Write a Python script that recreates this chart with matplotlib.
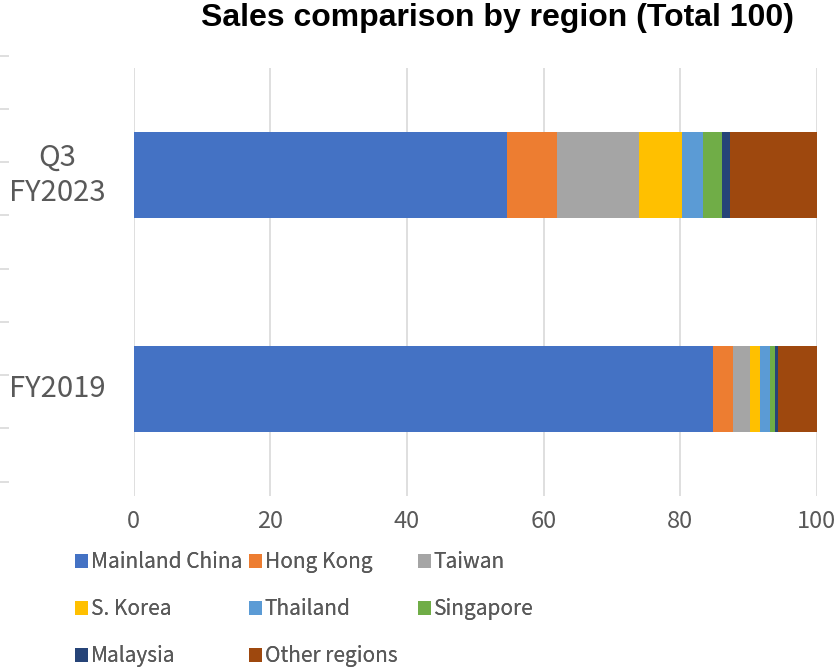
import matplotlib.pyplot as plt
import numpy as np

periods = ['FY2019', 'Q3\nFY2023']
regions = ['Mainland China', 'Hong Kong', 'Taiwan', 'S. Korea',
           'Thailand', 'Singapore', 'Malaysia', 'Other regions']
colors = ['#4472C4', '#ED7D31', '#A5A5A5', '#FFC000',
          '#5B9BD5', '#70AD47', '#264478', '#9E480E']

# shares per region: [FY2019, Q3 FY2023]
mainland = [84.8, 54.6]
hong_kong = [3.0, 7.4]
taiwan = [2.4, 12.0]
s_korea = [1.5, 6.2]
thailand = [1.5, 3.1]
singapore = [0.7, 2.8]
malaysia = [0.4, 1.2]
other = [5.7, 12.7]
series = [mainland, hong_kong, taiwan, s_korea, thailand, singapore, malaysia, other]

plt.rcParams['font.family'] = ['Noto Sans CJK JP', 'DejaVu Sans']
txt = '#595959'

fig = plt.figure(figsize=(8.36, 6.70), dpi=100)
ax = fig.add_axes([0.160, 0.260, 0.817, 0.638])

y = np.arange(len(periods))
left = np.zeros(len(periods))
handles = []
for name, vals, c in zip(regions, series, colors):
    b = ax.barh(y, vals, left=left, height=0.4, color=c, label=name, zorder=3)
    handles.append(b)
    left += np.array(vals)

ax.set_xlim(0, 100)
ax.set_ylim(-0.5, 1.5)
ax.set_xticks(range(0, 101, 20))
ax.set_yticks(y)
ax.set_yticklabels(periods, linespacing=1.25)
ax.tick_params(length=0, labelcolor=txt)
ax.tick_params(axis='x', labelsize=17, pad=10)
ax.tick_params(axis='y', labelsize=21, pad=55)
for t in ax.get_yticklabels():
    t.set_horizontalalignment('center')
    t.set_verticalalignment('center')
ax.grid(axis='x', color='#D9D9D9', linewidth=1.2, zorder=0)
for s in ax.spines.values():
    s.set_visible(False)

fig.suptitle('Sales comparison by region (Total 100)', x=0.595, y=0.995,
             fontsize=23, fontweight='bold', family='Liberation Sans', color='black')

# legend laid out row by row in three fixed columns
col_x = [0.090, 0.298, 0.500]
for k, x0 in enumerate(col_x):
    idx = list(range(k, len(regions), 3))
    leg = fig.legend([handles[i] for i in idx], [regions[i] for i in idx],
                     loc='upper left', bbox_to_anchor=(x0, 0.177), frameon=False,
                     fontsize=15, labelcolor=txt, handlelength=0.6, handleheight=0.6,
                     handletextpad=0.15, labelspacing=1.2, borderpad=0, borderaxespad=0)
    fig.add_artist(leg)

# faint tick marks along the left edge
ax2 = fig.add_axes([0.011, 0.281, 0.001, 0.636])
ax2.set_ylim(0, 1)
ax2.set_yticks(np.linspace(0, 1, 9))
ax2.set_yticklabels([])
ax2.set_xticks([])
ax2.tick_params(axis='y', length=9, color='#D9D9D9', width=1.2)
for s in ax2.spines.values():
    s.set_visible(False)
ax2.patch.set_visible(False)

fig.savefig('out.png', dpi=100)
